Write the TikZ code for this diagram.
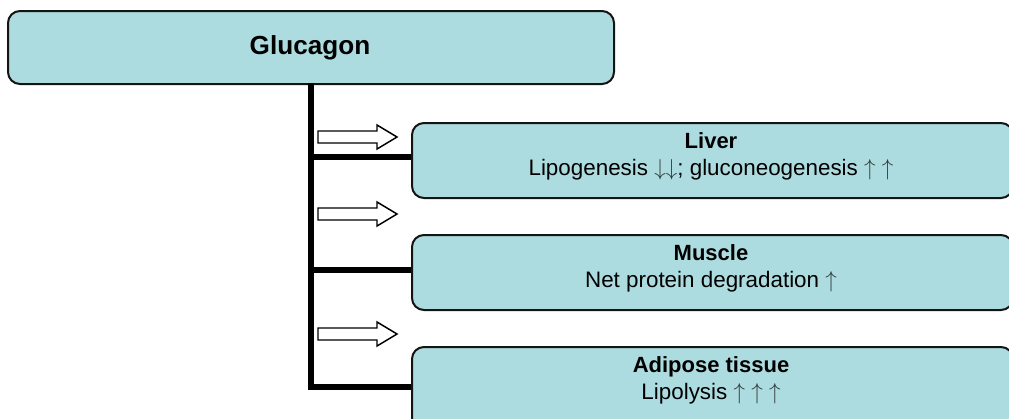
\documentclass[tikz,border=0pt]{standalone}
\usepackage{fontspec}
\setmainfont{Liberation Sans}
\definecolor{boxfill}{RGB}{173,220,224}
\definecolor{edge}{RGB}{20,20,20}
\definecolor{arr}{RGB}{50,60,60}
\newcommand{\upar}{\textcolor{arr}{$\smash{\uparrow}$}}
\newcommand{\downar}{\textcolor{arr}{$\smash{\downarrow}$}}
\begin{document}
\begin{tikzpicture}[x=0.75pt,y=-0.75pt,
  box/.style={draw=edge, line width=1.5pt, fill=boxfill, rounded corners=9pt, anchor=north west, inner sep=0pt},
  toptext/.style={font=\bfseries\fontsize{19.6}{22}\selectfont, anchor=base},
  title/.style={font=\bfseries\fontsize{16.5}{18}\selectfont, anchor=base},
  body/.style={font=\fontsize{16.8}{18}\selectfont, anchor=base},
  link/.style={line width=4.5pt, draw=black},
  hollow/.style={draw=black, line width=1.1pt, fill=white, line join=miter}]
\useasboundingbox (0,0) rectangle (1009,418);
\begin{scope}
\clip (0,0) rectangle (1009,418);
% boxes
\node[box, minimum width=454.5pt, minimum height=54.75pt] (gl) at (7,10) {};
\node[box, minimum width=450.75pt, minimum height=56.25pt] (liver) at (411,122) {};
\node[box, minimum width=450.75pt, minimum height=56.25pt] (muscle) at (411,234) {};
\node[box, minimum width=450.75pt, minimum height=62pt] (adipose) at (411,346) {};
% texts
\node[toptext] (tgl) at (310,54) {Glucagon};
\node[title] (tl1) at (711,148) {Liver};
\node[body] (tl2) at (711,175) {Lipogenesis \downar\downar; gluconeogenesis \upar\ \upar};
\node[title] (tm1) at (711,260) {Muscle};
\node[body] (tm2) at (711,287) {Net protein degradation \upar};
\node[title] (ta1) at (711,372) {Adipose tissue};
\node[body] (ta2) at (711,399) {Lipolysis \upar\ \upar\ \upar};
% connectors
\coordinate (top) at (311,83);
\coordinate (j1) at (311,157);
\coordinate (j2) at (311,270);
\coordinate (j3) at (311,387);
\draw[link] (top) |- (j3 -| adipose.west);
\draw[link] (j1) -- (j1 -| liver.west);
\draw[link] (j2) -- (j2 -| muscle.west);
% hollow arrows
\foreach \yy in {137,214,334}{
  \draw[hollow] (318,\yy-6) -- (377,\yy-6) -- (377,\yy-12) -- (397,\yy) -- (377,\yy+12) -- (377,\yy+6) -- (318,\yy+6) -- cycle;
}
\end{scope}
\end{tikzpicture}
\end{document}
